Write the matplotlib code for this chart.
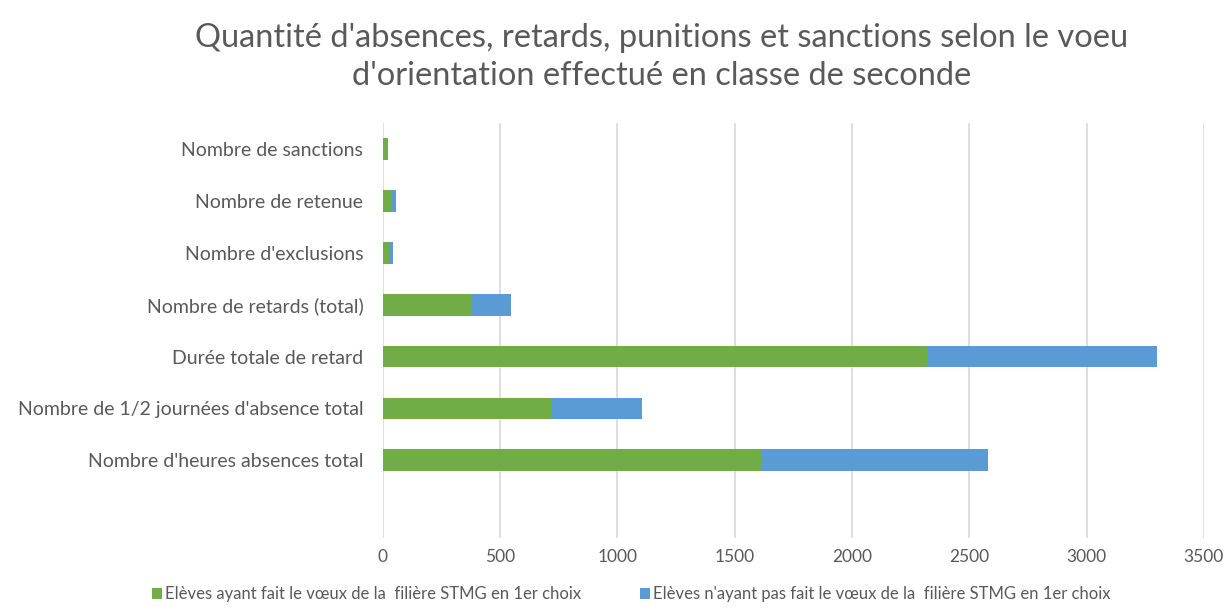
import numpy as np
import matplotlib.pyplot as plt

categories = ["Nombre d'heures absences total",
              "Nombre de 1/2 journées d'absence total",
              "Durée totale de retard",
              "Nombre de retards (total)",
              "Nombre d'exclusions",
              "Nombre de retenue",
              "Nombre de sanctions"]
choix_stmg = [1612, 717, 2319, 379, 31, 37, 21]
pas_choix_stmg = [968, 388, 983, 169, 13, 20, 2]

legend_labels = ["Elèves ayant fait le vœux de la  filière STMG en 1er choix",
                 "Elèves n'ayant pas fait le vœux de la  filière STMG en 1er choix"]
title = "Quantité d'absences, retards, punitions et sanctions selon le voeu\nd'orientation effectué en classe de seconde"

plt.rcParams['font.family'] = ['Lato', 'DejaVu Sans']
grey = '#595959'

fig = plt.figure(figsize=(12.26, 6.1), dpi=100)
ax = fig.add_axes([0.3122, 0.118, 0.982 - 0.3122, 0.798 - 0.118])

y = np.arange(len(categories))
ax.barh(y, choix_stmg, height=0.42, color='#70AD47', label=legend_labels[0], zorder=3)
ax.barh(y, pas_choix_stmg, left=choix_stmg, height=0.42, color='#5B9BD5',
        label=legend_labels[1], zorder=3)

ax.set_xlim(0, 3500)
ax.set_xticks(np.arange(0, 3501, 500))
ax.set_ylim(-1.5, 6.5)
ax.set_yticks(y)
ax.set_yticklabels(categories)
ax.grid(axis='x', color='#D9D9D9', linewidth=1.2, zorder=0)
for s in ax.spines.values():
    s.set_visible(False)
ax.tick_params(length=0, colors=grey, labelsize=12.5)
ax.tick_params(axis='y', pad=14, labelsize=14)
ax.tick_params(axis='x', pad=8)

fig.text(0.54, 0.963, title, ha='center', va='top', fontsize=23.5, color=grey,
         linespacing=1.35)

fig.legend(loc='lower center', bbox_to_anchor=(0.515, -0.012), ncol=2, frameon=False,
           fontsize=12, labelcolor=grey, handlelength=0.6, handleheight=0.6,
           handletextpad=0.2, columnspacing=3.5)

fig.savefig('out.png', dpi=100)
